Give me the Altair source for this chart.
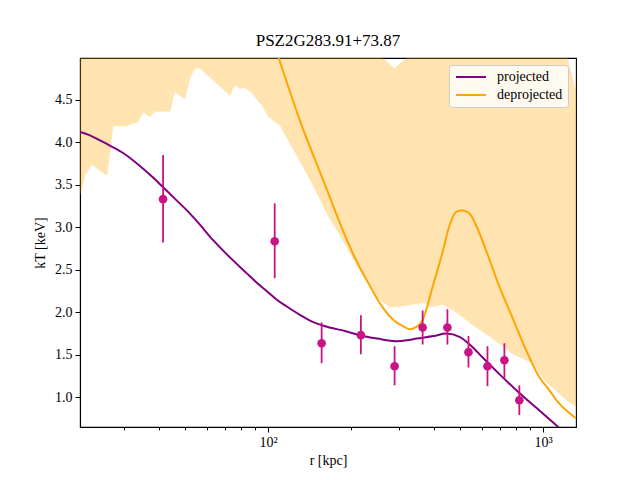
import altair as alt
import pandas as pd

# measured data points
r_obs = [41.5, 105.7, 156.6, 217.5, 288.5, 364.9, 449.0, 535.6, 628.0, 723.6, 820.0]
t_obs = [3.33, 2.835, 1.635, 1.73, 1.365, 1.82, 1.82, 1.53, 1.365, 1.435, 0.965]
t_hi = [3.85, 3.28, 1.88, 1.965, 1.60, 2.02, 2.035, 1.72, 1.60, 1.635, 1.14]
t_lo = [2.82, 2.40, 1.40, 1.505, 1.14, 1.62, 1.62, 1.35, 1.13, 1.22, 0.79]

# projected model
r_proj = [20.7, 22.5, 24.5, 26.6, 29.8, 34.2, 38, 41.5, 46, 52, 56.5, 63, 70.8, 83.5,
          90.8, 98.7, 107.3, 116.6, 130.4, 145.3, 167.4, 190, 215, 250, 293, 320, 347,
          400, 445, 497, 550, 602, 700, 820, 950, 1117, 1200]
t_proj = [4.12, 4.08, 4.02, 3.96, 3.87, 3.72, 3.59, 3.47, 3.33, 3.16, 3.03, 2.85, 2.68,
          2.46, 2.35, 2.25, 2.15, 2.07, 1.97, 1.886, 1.82, 1.78, 1.73, 1.69, 1.66, 1.67,
          1.69, 1.72, 1.75, 1.71, 1.60, 1.47, 1.26, 1.05, 0.87, 0.67, 0.58]

# deprojected model
r_dep = [100, 109.3, 130.4, 160.6, 182, 202.8, 230, 260.6, 288, 308, 327, 347, 364.5,
         396, 430.6, 456.9, 483, 508, 540, 571, 630, 694, 773, 869, 970, 1050, 1128, 1321]
t_dep = [5.37, 4.99, 4.26, 3.51, 3.06, 2.70, 2.36, 2.06, 1.90, 1.84, 1.80, 1.83, 1.906,
         2.29, 2.70, 3.02, 3.18, 3.20, 3.16, 3.02, 2.67, 2.30, 1.94, 1.55, 1.235, 1.09,
         0.95, 0.75]

# deprojected uncertainty band
r_band = [20.7, 21.6, 22.85, 25.5, 26.0, 27.3, 30.6, 33.7, 35.2, 37.2, 38.8, 44.0, 45.8,
          49.8, 52.0, 54.2, 56.5, 72.6, 75.7, 78.9, 82.3, 87.0, 94.6, 100, 110.3, 141.6,
          167.4, 182.0, 215.3, 243.9, 260.6, 276.6, 288.4, 319, 345.6, 370.7, 386.5,
          431.8, 483, 554.8, 655.7, 776.3, 916.7, 1025, 1213, 1225, 1270, 1319]
band_lo = [3.38, 3.61, 3.74, 3.62, 3.62, 4.19, 4.19, 4.24, 4.35, 4.30, 4.36, 4.36, 4.59,
           4.51, 4.75, 4.87, 4.87, 4.55, 4.67, 4.63, 4.64, 4.58, 4.44, 4.30, 4.20, 3.57,
           3.10, 2.91, 2.49, 2.20, 2.12, 2.06, 2.06, 2.08, 2.10, 2.11, 2.06, 2.09, 2.00,
           1.85, 1.69, 1.51, 1.40, 1.18, 0.97, 0.955, 0.92, 0.89]
band_hi = [5.5, 5.5, 5.5, 5.5, 5.5, 5.5, 5.5, 5.5, 5.5, 5.5, 5.5, 5.5, 5.5,
           5.5, 5.5, 5.5, 5.5, 5.5, 5.5, 5.5, 5.5, 5.5, 5.5, 5.5, 5.5, 5.5,
           5.5, 5.5, 5.5, 5.5, 4.99, 4.92, 4.87, 4.99, 5.5, 5.5, 5.5, 5.5, 5.5,
           5.5, 5.5, 5.5, 5.5, 5.5, 5.2, 5.0, 4.8, 4.6]

x_ticks = [30, 40, 50, 60, 70, 80, 90, 100, 200, 300, 400, 500, 600, 700, 800, 900, 1000]
y_ticks = [1.0, 1.5, 2.0, 2.5, 3.0, 3.5, 4.0, 4.5]

FONT = "Liberation Serif"

obs = pd.DataFrame({"r": r_obs, "t": t_obs, "hi": t_hi, "lo": t_lo})
proj = pd.DataFrame({"r": r_proj, "t": t_proj, "series": "projected"})
dep = pd.DataFrame({"r": r_dep, "t": t_dep, "series": "deprojected"})
band = pd.DataFrame({"r": r_band, "lo": band_lo, "hi": band_hi})

xscale = alt.Scale(type="log", domain=[20.7, 1318], nice=False)
yscale = alt.Scale(domain=[0.65, 4.99], nice=False, zero=False)

xaxis = alt.Axis(
    values=x_ticks,
    labelExpr="datum.value == 100 ? '10²' : (datum.value == 1000 ? '10³' : '')",
    tickSize={"condition": {"test": "datum.value == 100 || datum.value == 1000", "value": 5}, "value": 2.8},
    title="r [kpc]", titlePadding=4, labelPadding=3, grid=False,
    labelFont=FONT, labelFontSize=14, titleFont=FONT, titleFontSize=14,
    titleFontWeight="normal", labelColor="black", titleColor="black",
)
yaxis = alt.Axis(values=y_ticks, format=".1f", title="kT [keV]", titlePadding=7,
                 tickSize=5, labelPadding=3, grid=False,
                 labelFont=FONT, labelFontSize=14, titleFont=FONT, titleFontSize=14,
                 titleFontWeight="normal", labelColor="black", titleColor="black")

color = alt.Color(
    "series:N",
    scale=alt.Scale(domain=["projected", "deprojected"], range=["#800080", "#FFA500"]),
    legend=alt.Legend(
        title=None, orient="none", legendX=369, legendY=7,
        symbolType="M-1,0H5", symbolSize=100, symbolStrokeWidth=2,
        labelFont=FONT, labelFontSize=14, labelColor="black",
        fillColor="rgba(255,255,255,0.8)", strokeColor="#cccccc",
        cornerRadius=3, padding=5, rowPadding=4, labelOffset=29,
    ),
)

band_layer = alt.Chart(band).mark_area(
    clip=True, color="#FFA500", opacity=0.3, stroke="#FFA500", strokeWidth=1, strokeOpacity=0.3
).encode(
    x=alt.X("r:Q", scale=xscale, axis=xaxis),
    y=alt.Y("lo:Q", scale=yscale, axis=yaxis),
    y2="hi:Q",
)

dep_layer = alt.Chart(dep).mark_line(clip=True, strokeWidth=2, interpolate="monotone").encode(
    x=alt.X("r:Q", scale=xscale), y=alt.Y("t:Q", scale=yscale), color=color
)
proj_layer = alt.Chart(proj).mark_line(clip=True, strokeWidth=2, interpolate="monotone").encode(
    x=alt.X("r:Q", scale=xscale), y=alt.Y("t:Q", scale=yscale), color=color
)

err_layer = alt.Chart(obs).mark_rule(color="#C71585", strokeWidth=1.8).encode(
    x=alt.X("r:Q", scale=xscale), y=alt.Y("lo:Q", scale=yscale), y2="hi:Q"
)
pt_layer = alt.Chart(obs).mark_circle(color="#C71585", size=75, opacity=1).encode(
    x=alt.X("r:Q", scale=xscale), y=alt.Y("t:Q", scale=yscale)
)

chart = alt.layer(band_layer, dep_layer, proj_layer, err_layer, pt_layer).properties(
    width=496, height=369,
    title=alt.TitleParams("PSZ2G283.91+73.87", font=FONT, fontSize=17, fontWeight="normal",
                          color="black", offset=8),
    autosize=alt.AutoSizeParams(type="none"),
    padding={"left": 80, "top": 58, "right": 64, "bottom": 53},
    background="white",
).configure_view(stroke="black", strokeWidth=1.1).configure_axis(
    labelFont=FONT, labelFontSize=14, labelColor="black",
    titleFont=FONT, titleFontSize=14, titleColor="black", titleFontWeight="normal",
    domainColor="black", domainWidth=1.1, tickColor="black", tickWidth=1,
)

chart.save("out.html", embed_options={"renderer": "svg", "actions": False})
